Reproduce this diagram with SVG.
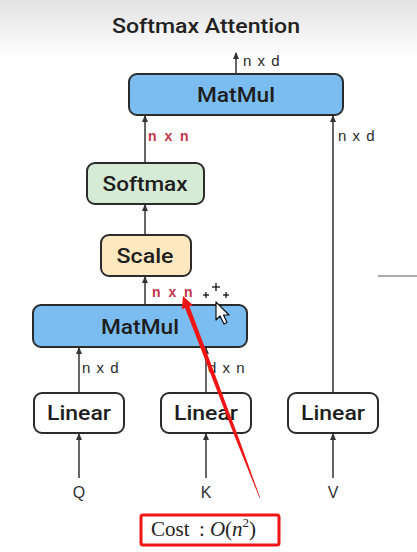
<svg xmlns="http://www.w3.org/2000/svg" width="417" height="552" viewBox="0 0 417 552">
<defs>
<linearGradient id="bg" x1="0" y1="0" x2="0" y2="1">
<stop offset="0" stop-color="#e3e3e3"/>
<stop offset="1" stop-color="#ffffff"/>
</linearGradient>
<marker id="ah" markerWidth="8" markerHeight="8" refX="6" refY="4" orient="auto" markerUnits="userSpaceOnUse" viewBox="0 0 8 8">
<path d="M0,1 L7,4 L0,7 Z" fill="#333"/>
</marker>
<style>
.box{stroke:#2b2b2b;stroke-width:2}
.lbl{font-family:Roboto,"Liberation Sans",Arial,sans-serif;font-weight:500;font-size:21px;fill:#1e1e1e;text-anchor:middle}
.dim{font-family:"Liberation Sans",Arial,sans-serif;font-size:15px;fill:#2a2a2a;letter-spacing:1px}
.red{font-family:"Liberation Sans",Arial,sans-serif;font-size:14px;font-weight:bold;fill:#c4354a;letter-spacing:2px}
.in{font-family:"Liberation Sans",Arial,sans-serif;font-size:16px;fill:#333;text-anchor:middle}
.ln{stroke:#333;stroke-width:1.5;fill:none;marker-end:url(#ah)}
</style>
</defs>
<rect x="0" y="0" width="417" height="552" fill="#fff"/>
<rect x="0" y="0" width="417" height="60" fill="url(#bg)"/>
<text x="206" y="33" font-family="Roboto,Liberation Sans,Arial,sans-serif" font-weight="500" font-size="21" fill="#222" text-anchor="middle" textLength="188" lengthAdjust="spacingAndGlyphs">Softmax Attention</text>
<line x1="378" y1="276" x2="417" y2="276" stroke="#555" stroke-width="1.2"/>

<g id="connectors">
<line class="ln" x1="236" y1="73" x2="236" y2="53"/>
<line class="ln" x1="145" y1="162" x2="145" y2="116"/>
<line class="ln" x1="333" y1="392" x2="333" y2="116"/>
<line class="ln" x1="145" y1="234" x2="145" y2="205"/>
<line class="ln" x1="145" y1="304" x2="145" y2="277"/>
<line class="ln" x1="79" y1="392" x2="79" y2="348"/>
<line class="ln" x1="206" y1="392" x2="206" y2="348"/>
<line class="ln" x1="79" y1="478" x2="79" y2="434"/>
<line class="ln" x1="206" y1="478" x2="206" y2="434"/>
<line class="ln" x1="333" y1="478" x2="333" y2="434"/>
<text class="dim" x="243" y="66">n x d</text>
<text class="red" x="148" y="141">n x n</text>
<text class="dim" x="338" y="141">n x d</text>
<text class="red" x="152" y="297">n x n</text>
<text class="dim" x="82" y="373">n x d</text>
<text class="dim" x="208" y="373">d x n</text>
</g>

<g id="matmul-top">
<rect class="box" x="129" y="74" width="214" height="41" rx="8" fill="#7bbdf0"/>
<text class="lbl" x="236" y="102" textLength="78" lengthAdjust="spacingAndGlyphs">MatMul</text>
</g>
<g id="softmax">
<rect class="box" x="87" y="163" width="117" height="41" rx="8" fill="#d6ebd5"/>
<text class="lbl" x="145" y="191" textLength="85" lengthAdjust="spacingAndGlyphs">Softmax</text>
</g>
<g id="scale">
<rect class="box" x="101" y="235" width="90" height="41" rx="8" fill="#fde8bf"/>
<text class="lbl" x="145" y="263" textLength="57" lengthAdjust="spacingAndGlyphs">Scale</text>
</g>
<g id="matmul-bottom">
<rect class="box" x="33" y="305" width="214" height="42" rx="8" fill="#7bbdf0"/>
<text class="lbl" x="140" y="334" textLength="78" lengthAdjust="spacingAndGlyphs">MatMul</text>
</g>
<g id="linear-q">
<rect class="box" x="34" y="393" width="90" height="40" rx="8" fill="#fff"/>
<text class="lbl" x="79" y="420" textLength="64" lengthAdjust="spacingAndGlyphs">Linear</text>
</g>
<g id="linear-k">
<rect class="box" x="161" y="393" width="90" height="40" rx="8" fill="#fff"/>
<text class="lbl" x="206" y="420" textLength="64" lengthAdjust="spacingAndGlyphs">Linear</text>
</g>
<g id="linear-v">
<rect class="box" x="288" y="393" width="90" height="40" rx="8" fill="#fff"/>
<text class="lbl" x="333" y="420" textLength="64" lengthAdjust="spacingAndGlyphs">Linear</text>
</g>
<g id="inputs">
<text class="in" x="79" y="498">Q</text>
<text class="in" x="206" y="498">K</text>
<text class="in" x="333" y="498">V</text>
</g>

<g id="cost">
<rect x="141" y="515" width="138" height="30" rx="2" fill="#fff" stroke="#f01515" stroke-width="3"/>
<text font-family="Liberation Serif,Times New Roman,serif" font-size="21" fill="#222" y="536"><tspan x="151">Cost</tspan><tspan x="199">:</tspan><tspan x="210" font-style="italic">O</tspan><tspan x="225">(</tspan><tspan font-style="italic">n</tspan><tspan font-size="13" dy="-9">2</tspan><tspan dy="9">)</tspan></text>
</g>

<g id="annotation">
<polygon points="183,296 192.9,305.1 189.5,306.4 237.9,435.7 260.2,497.9 259.6,498.1 234.9,436.9 185.1,308 181.7,309.3" fill="#f01515"/>
<g stroke="#111" stroke-width="1.3">
<line x1="216" y1="283" x2="216" y2="291"/><line x1="212" y1="287" x2="220" y2="287"/>
<line x1="206" y1="292" x2="206" y2="298"/><line x1="203" y1="295" x2="209" y2="295"/>
<line x1="226" y1="292" x2="226" y2="298"/><line x1="223" y1="295" x2="229" y2="295"/>
</g>
<polygon points="216,302 216,320 220,316 224,324 227,322.5 223.5,315 229,315" fill="#fff" stroke="#111" stroke-width="1.2" stroke-linejoin="round"/>
</g>
</svg>
